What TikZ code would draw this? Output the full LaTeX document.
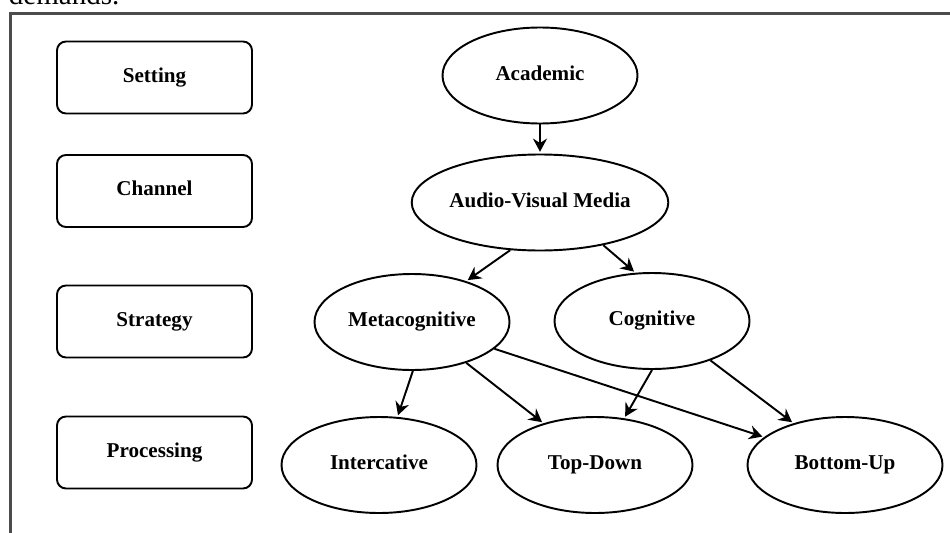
\documentclass[tikz,border=0pt]{standalone}
\usepackage{fontspec}
\setmainfont{Liberation Serif}
\usetikzlibrary{arrows.meta,shapes.geometric}

\begin{document}
\begin{tikzpicture}[x=0.2mm,y=-0.2mm,->,>={Stealth[length=7.5pt,width=8pt,inset=2.5pt]},shorten >=1pt,line width=1.1pt,
    level box/.style={rectangle,draw,rounded corners=1.8mm,minimum width=39mm,minimum height=14.4mm,
      text height=8pt,text depth=2.5pt,font=\bfseries\fontsize{12}{14}\selectfont},
    item node/.style={ellipse,draw,inner sep=0pt,minimum width=39mm,minimum height=19.2mm,
      text height=8pt,text depth=2.5pt,font=\bfseries\fontsize{12}{14}\selectfont}]
    \useasboundingbox (0,0) rectangle (950,532);
    \clip (0,0) rectangle (950,532);
    \node[anchor=base west,inner sep=0pt,font=\fontsize{16.5}{18}\selectfont] (demands) at (8,5) {demands.};
    \draw[-,draw=black!70,line width=1.3pt] (10.5,13.5) rectangle (1000,600);

    % levels
    \node[level box] (setting) at (154.5,77.5) {Setting};
    \node[level box] (channel) at (154.5,191) {Channel};
    \node[level box] (strategy) at (154.5,321.5) {Strategy};
    \node[level box] (processing) at (154.5,452.5) {Processing};

    % model
    \node[item node] (aca) at (540,75.5) {Academic};
    \node[item node] (avm) at (540,202.5) {Audio-Visual Media};
    \node[item node] (meta) at (412,322) {Metacognitive};
    \node[item node] (cog) at (652,321) {Cognitive};
    \node[item node] (inter) at (379,465) {Intercative};
    \node[item node] (topdown) at (595,465) {Top-Down};
    \node[item node] (botup) at (845,465) {Bottom-Up};

    \path
    (aca) edge (avm)
    (avm.238) edge (meta.37)
    (avm.326) edge (cog.109)
    (meta.271) edge (inter.69)
    (meta.323) edge (topdown.141)
    (meta.342) edge (botup.161)
    (cog.270) edge (topdown.58)
    (cog.326) edge (botup.141);
  \end{tikzpicture}
\end{document}
